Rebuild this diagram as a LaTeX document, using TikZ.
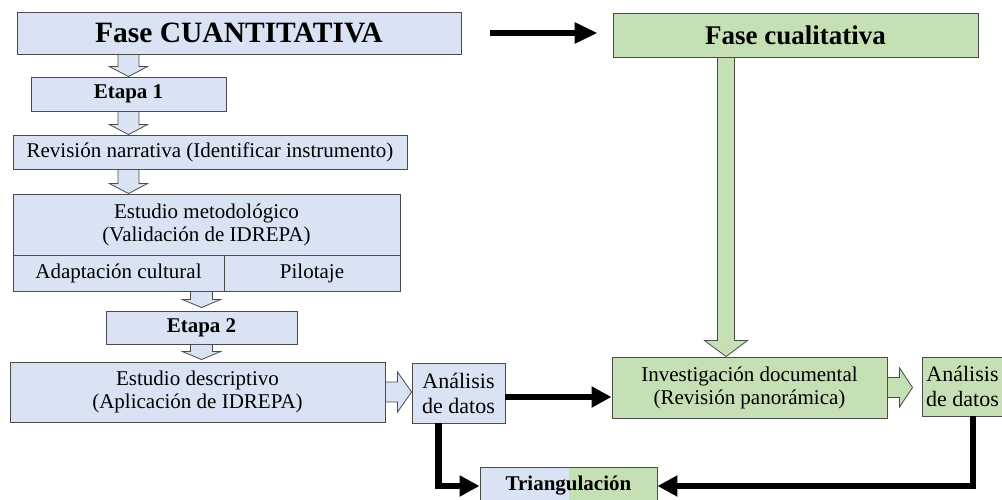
\documentclass[tikz,border=0pt]{standalone}
\usepackage{fontspec}
\setmainfont{Liberation Serif}
\usetikzlibrary{arrows.meta,calc}
\definecolor{bluef}{RGB}{218,227,243}
\definecolor{greenf}{RGB}{197,224,180}
\definecolor{edge}{RGB}{75,75,75}
\tikzset{
 box/.style={draw=edge, line width=0.9pt, inner sep=0pt, align=center, font=\fontsize{21}{23}\selectfont},
 bbox/.style={box, fill=bluef},
 gbox/.style={box, fill=greenf},
 bold/.style={font=\fontsize{21}{23}\selectfont\bfseries},
 blk/.style={line width=6.5pt, -{Triangle[length=20pt,width=20pt]}},
 hblue/.style={draw=edge, line width=0.8pt, fill=bluef},
 hgreen/.style={draw=edge, line width=0.8pt, fill=greenf},
}
\newcommand\vblock[6]{\path[#1] let \p1=#2, \p2=#3 in (\x1-#4,\y1) -- (\x1-#4,\y2+#6) -- (\x1-#5,\y2+#6) -- (\x1,\y2) -- (\x1+#5,\y2+#6) -- (\x1+#4,\y2+#6) -- (\x1+#4,\y1) -- cycle;}
\newcommand\hblock[6]{\path[#1] let \p1=#2, \p2=#3 in (\x1,\y1-#4) -- (\x2-#6,\y1-#4) -- (\x2-#6,\y1-#5) -- (\x2,\y1) -- (\x2-#6,\y1+#5) -- (\x2-#6,\y1+#4) -- (\x1,\y1+#4) -- cycle;}
\begin{document}
\begin{tikzpicture}[x=1pt,y=-1pt]
\useasboundingbox[fill=white] (0,0) rectangle (1002,500);
% nodes
\node[bbox, minimum width=444pt, minimum height=42pt, font=\fontsize{29.5}{32}\selectfont\bfseries] (fq) at (239,33) {Fase CUANTITATIVA};
\node[gbox, minimum width=365pt, minimum height=44pt, font=\fontsize{27}{30}\selectfont\bfseries] (fc) at (795.5,35) {Fase cualitativa};
\node[bbox, bold, minimum width=195pt, minimum height=34pt] (e1) at (128.5,94) {Etapa 1};
\node[bbox, minimum width=394pt, minimum height=34pt] (rn) at (210,152) {Revisión narrativa (Identificar instrumento)};
\node[bbox, minimum width=387pt, minimum height=61pt] (em) at (206.5,224.5) {Estudio metodológico\\(Validación de IDREPA)};
\node[bbox, minimum width=211pt, minimum height=36pt] (ac) at (118.5,273) {Adaptación cultural};
\node[bbox, minimum width=176pt, minimum height=36pt] (pi) at (312,273) {Pilotaje};
\node[bbox, bold, minimum width=191pt, minimum height=33pt] (e2) at (201.5,327.5) {Etapa 2};
\node[bbox, minimum width=375pt, minimum height=60pt] (ed) at (197.5,392) {Estudio descriptivo\\(Aplicación de IDREPA)};
\node[bbox, minimum width=93pt, minimum height=60pt, font=\fontsize{22}{25}\selectfont] (ad1) at (458.5,393) {Análisis\\de datos};
\node[gbox, minimum width=275pt, minimum height=61pt] (id) at (749.5,387.5) {Investigación documental\\(Revisión panorámica)};
\node[gbox, minimum width=81pt, minimum height=59pt, font=\fontsize{22}{25}\selectfont] (ad2) at (962.5,386.5) {Análisis\\de datos};
\node[box, bold, minimum width=177pt, minimum height=38pt,
  path picture={\fill[bluef] (path picture bounding box.south west) rectangle (path picture bounding box.north);
                \fill[greenf] (path picture bounding box.south) rectangle (path picture bounding box.north east);}] (tri) at (568.5,486) {Triangulación};
% hollow block arrows
\vblock{hblue}{(fq.south -| e1.north)}{(e1.north)}{10.5pt}{19pt}{10pt}
\vblock{hblue}{(e1.south)}{(e1.south |- rn.north)}{10.5pt}{19pt}{10pt}
\vblock{hblue}{(e1.south |- rn.south)}{(e1.south |- em.north)}{10.5pt}{19pt}{10pt}
\vblock{hblue}{(e2.north |- ac.south)}{([yshift=3pt]e2.north)}{11pt}{19pt}{8pt}
\vblock{hblue}{(e2.south)}{([yshift=2pt]e2.south |- ed.north)}{11pt}{19pt}{8pt}
\hblock{hblue}{(ed.east)}{(ed.east -| ad1.west)}{10pt}{20pt}{14pt}
\hblock{hgreen}{(id.east)}{([xshift=-9pt]id.east -| ad2.west)}{10pt}{19.5pt}{13pt}
\vblock{hgreen}{([xshift=-69.5pt]fc.south)}{([xshift=-69.5pt]fc.south |- id.north)}{8.5pt}{21.5pt}{16pt}
% black arrows
\draw[line width=6pt, -{Triangle[length=23pt,width=20pt]}, shorten <=29pt, shorten >=15pt] (fq.east) -- (fq.east -| fc.west);
\draw[blk] ([yshift=-4pt]ad1.east) -- ([yshift=-4pt]ad1.east -| id.west);
\draw[blk] ([xshift=-20pt]ad1.south) |- (tri.west);
\draw[blk] ([xshift=10.5pt]ad2.south) |- (tri.east);
\end{tikzpicture}
\end{document}
